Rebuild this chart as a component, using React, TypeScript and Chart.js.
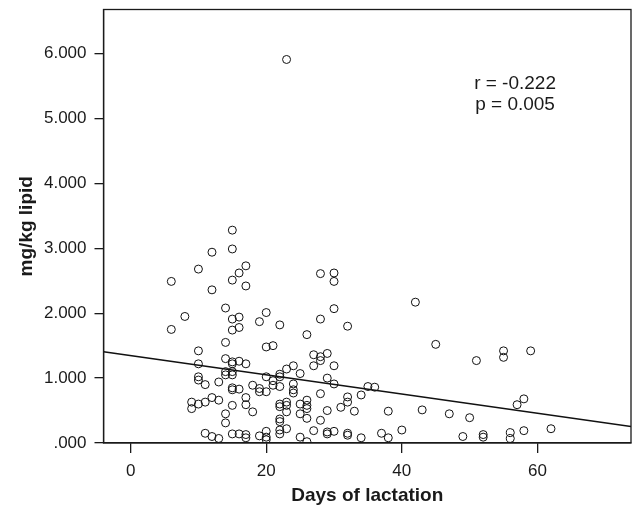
import React, { useEffect, useRef } from "react";
import { Chart, registerables } from "chart.js";

Chart.register(...registerables);

// Days of lactation (x) and mg/kg lipid (y)
const lactationDays: number[] = [
  6, 6, 8, 10, 12, 15, 15, 12, 15, 16, 17, 17, 14, 15, 16, 15, 16, 14, 10, 10,
  14, 15, 15, 16, 17, 14, 15, 14, 15, 10, 10, 11, 13, 15, 15, 16, 17, 17, 15, 9,
  9, 10, 11, 12, 13, 14, 14, 11, 12, 13, 15, 16, 17, 17, 18, 18,
  19, 19, 20, 19, 20, 22, 26, 20, 21, 27, 28, 29, 28, 27, 30, 23, 24, 22, 22, 20,
  21, 25, 21, 22, 24, 24, 24, 29, 30, 28, 22, 22, 23, 23, 23, 25, 25, 26, 26, 26,
  26, 29, 28, 31, 22, 22, 22, 22, 23, 20, 20, 20, 19, 25, 26, 27, 29, 29, 30, 28,
  30, 30, 30, 28,
  32, 35, 36, 32, 32, 34, 33, 38, 32, 32, 34, 37, 38, 40, 42, 45, 43, 47, 51, 55,
  55, 59, 58, 57, 50, 49, 52, 52, 56, 56, 58, 62, 23,
];
const lipidValues: number[] = [
  2.49, 1.75, 1.95, 2.68, 2.94, 2.99, 3.28, 2.36, 2.51, 2.62, 2.73, 2.42, 2.08, 1.91, 1.94, 1.74, 1.78, 1.55, 1.42, 1.22,
  1.30, 1.25, 1.22, 1.26, 1.22, 1.10, 1.10, 1.05, 1.05, 1.02, 0.97, 0.90, 0.94, 0.85, 0.82, 0.83, 0.70, 0.59, 0.58, 0.63,
  0.53, 0.60, 0.63, 0.70, 0.66, 0.45, 0.31, 0.15, 0.10, 0.07, 0.14, 0.14, 0.13, 0.08, 0.48, 0.89,
  0.84, 0.79, 0.79, 1.87, 2.01, 1.82, 1.67, 1.48, 1.50, 1.36, 1.33, 1.38, 1.27, 1.19, 1.19, 1.14, 1.19, 1.06, 1.02, 1.02,
  0.96, 1.07, 0.89, 0.87, 0.91, 0.82, 0.77, 1.00, 0.91, 0.76, 0.60, 0.56, 0.63, 0.58, 0.48, 0.60, 0.45, 0.66, 0.58, 0.53,
  0.38, 0.50, 0.35, 0.55, 0.37, 0.33, 0.20, 0.14, 0.22, 0.18, 0.09, 0.05, 0.11, 0.09, 0.02, 0.19, 0.17, 0.14, 0.18, 2.61,
  2.62, 2.49, 2.07, 1.91,
  1.80, 0.87, 0.86, 0.71, 0.63, 0.74, 0.49, 0.49, 0.15, 0.12, 0.08, 0.15, 0.08, 0.20, 2.17, 1.52, 0.51, 0.45, 1.27, 1.42,
  1.32, 1.42, 0.68, 0.59, 0.39, 0.10, 0.13, 0.09, 0.16, 0.07, 0.19, 0.22, 5.91,
];

// Regression line end points
const fitX: number[] = [-4, 73.8];
const fitY: number[] = [1.405, 0.255];

const xTicks: number[] = [0, 20, 40, 60];
const yTicks: number[] = [0, 1, 2, 3, 4, 5, 6];

const statLines: string[] = ["r = -0.222", "p = 0.005"];
const statPosX = 56.7;
const statPosY: number[] = [5.45, 5.13];

const FONT = "'Liberation Sans', Arial, Helvetica, sans-serif";

export default function App() {
  const ref = useRef<HTMLCanvasElement | null>(null);

  useEffect(() => {
    if (!ref.current) return;
    const points = lactationDays.map((d, i) => ({ x: d, y: lipidValues[i] }));
    const fit = fitX.map((x, i) => ({ x, y: fitY[i] }));

    const framePlugin = {
      id: "frame",
      afterDatasetsDraw(chart: any) {
        const { ctx, chartArea } = chart;
        ctx.save();
        ctx.strokeStyle = "#1a1a1a";
        ctx.lineWidth = 1.3;
        ctx.strokeRect(chartArea.left, chartArea.top, chartArea.right - chartArea.left, chartArea.bottom - chartArea.top);
        ctx.restore();
      },
    };

    const statPlugin = {
      id: "stats",
      afterDraw(chart: any) {
        const { ctx } = chart;
        const xs = chart.scales.x;
        const ys = chart.scales.y;
        ctx.save();
        ctx.fillStyle = "#1a1a1a";
        ctx.font = `19px ${FONT}`;
        ctx.textAlign = "center";
        ctx.textBaseline = "alphabetic";
        statLines.forEach((t, i) => {
          ctx.fillText(t, xs.getPixelForValue(statPosX), ys.getPixelForValue(statPosY[i]));
        });
        ctx.restore();
      },
    };

    const chart = new Chart(ref.current, {
      type: "scatter",
      data: {
        datasets: [
          {
            type: "scatter",
            data: points,
            pointRadius: 4,
            pointHoverRadius: 4,
            pointBorderWidth: 1,
            borderColor: "#111",
            backgroundColor: "rgba(0,0,0,0)",
          },
          {
            type: "line",
            data: fit,
            borderColor: "#111",
            borderWidth: 1.5,
            pointRadius: 0,
            fill: false,
          } as any,
        ],
      },
      options: {
        animation: false,
        responsive: false,
        events: [],
        layout: { padding: { left: 0, right: 3, top: 9.5, bottom: 0 } },
        plugins: { legend: { display: false }, tooltip: { enabled: false } },
        scales: {
          x: {
            type: "linear",
            min: -4,
            max: 73.8,
            afterBuildTicks: (scale: any) => {
              scale.ticks = xTicks.map((v) => ({ value: v }));
            },
            afterFit: (scale: any) => {
              scale.height = 64;
              scale.paddingLeft = 0;
              scale.paddingRight = 0;
            },
            grid: { drawOnChartArea: false, drawTicks: true, tickLength: 10, color: "#1a1a1a", lineWidth: 1.3 },
            border: { display: true, color: "#1a1a1a", width: 1.3 },
            ticks: {
              color: "#1a1a1a",
              font: { family: FONT, size: 17 },
              padding: 8,
              callback: (v: any) => String(v),
            },
            title: {
              display: true,
              text: "Days of lactation",
              color: "#1a1a1a",
              font: { family: FONT, size: 19, weight: "bold" },
              padding: { top: 0, bottom: 0 },
            },
          },
          y: {
            type: "linear",
            min: 0,
            max: 6.68,
            afterBuildTicks: (scale: any) => {
              scale.ticks = yTicks.map((v) => ({ value: v }));
            },
            afterFit: (scale: any) => {
              scale.width = 103.5;
              scale.paddingTop = 0;
              scale.paddingBottom = 0;
            },
            grid: { drawOnChartArea: false, drawTicks: true, tickLength: 9, color: "#1a1a1a", lineWidth: 1.3 },
            border: { display: true, color: "#1a1a1a", width: 1.3 },
            ticks: {
              color: "#1a1a1a",
              font: { family: FONT, size: 17 },
              padding: 8,
              callback: (v: any) => (Number(v) === 0 ? ".000" : Number(v).toFixed(3)),
            },
            title: {
              display: true,
              text: "mg/kg lipid",
              color: "#1a1a1a",
              font: { family: FONT, size: 19, weight: "bold" },
              padding: { top: 15, bottom: 0 },
            },
          },
        },
      },
      plugins: [framePlugin, statPlugin],
    });
    return () => chart.destroy();
  }, []);

  return (
    <div style={{ position: "fixed", left: 0, top: 0, width: 636, height: 507, background: "#fff" }}>
      <canvas ref={ref} width={636} height={507} style={{ display: "block" }} />
    </div>
  );
}
